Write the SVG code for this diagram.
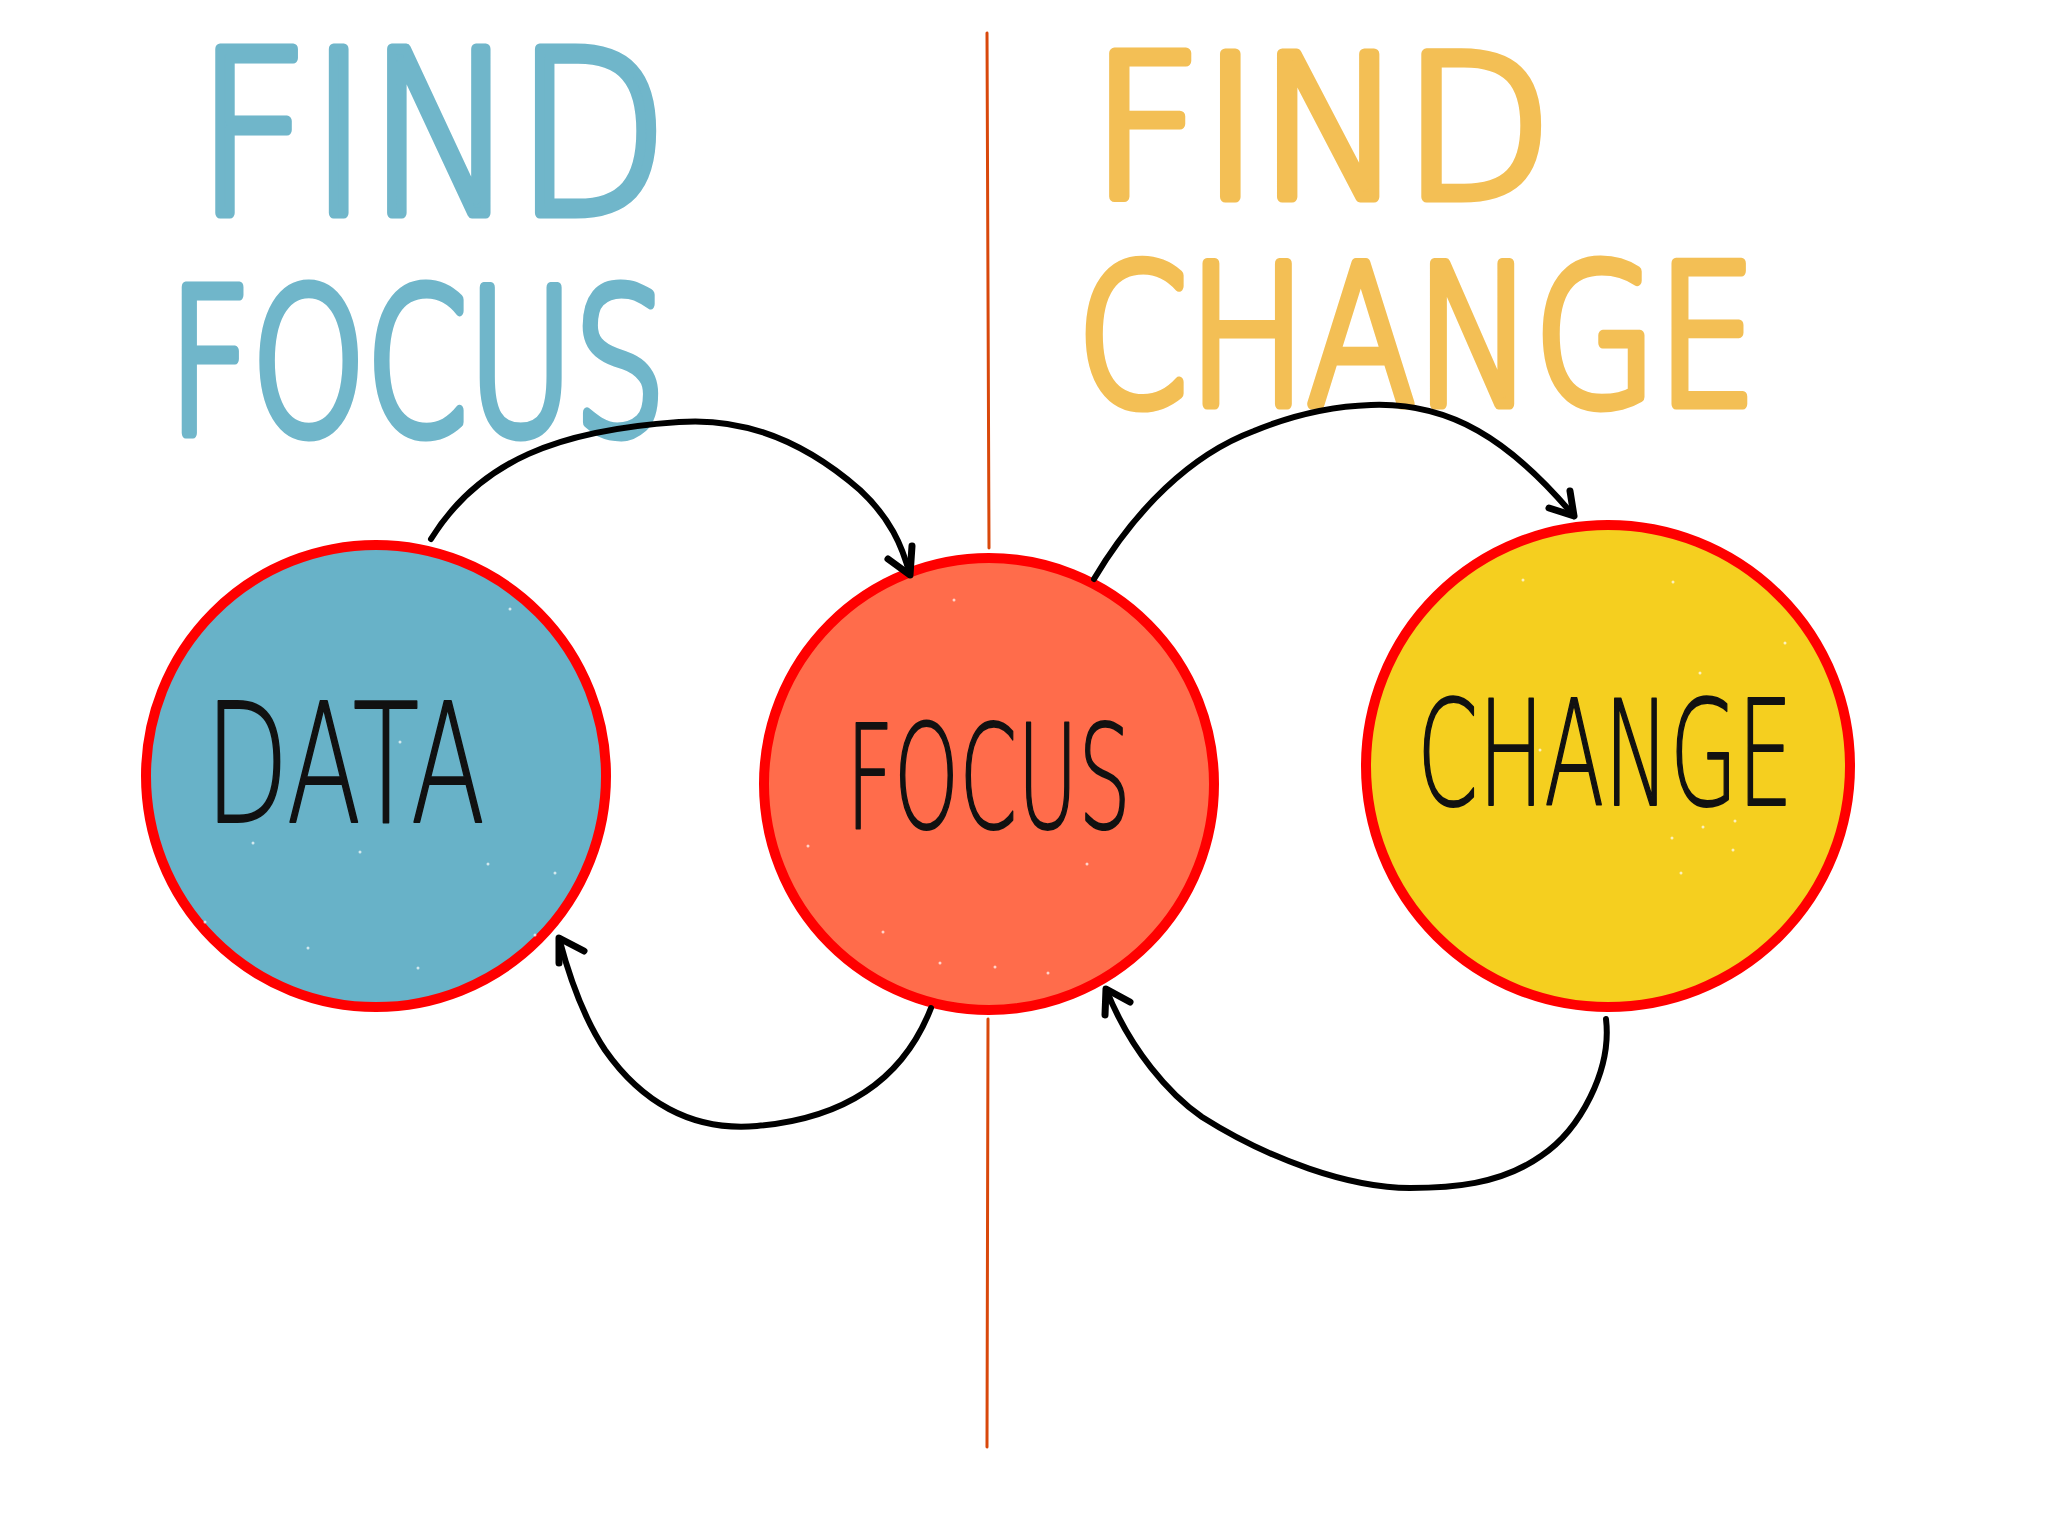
<svg xmlns="http://www.w3.org/2000/svg" width="2048" height="1536" viewBox="0 0 2048 1536">
<style>
.hand{font-family:"DejaVu Sans","Liberation Sans",sans-serif;font-weight:200;stroke-linejoin:round;stroke-linecap:round}
.t-teal{fill:#70b6ca;stroke:#70b6ca;stroke-width:11}
.t-yel{fill:#f3bf55;stroke:#f3bf55;stroke-width:11}
.lbl{fill:#111;stroke:#111;stroke-width:2}
.node{stroke:#ff0000;stroke-width:10}
.conn{fill:none;stroke:#000;stroke-width:6;stroke-linecap:round;stroke-linejoin:round}
.head{fill:none;stroke:#000;stroke-width:7;stroke-linecap:round;stroke-linejoin:round}
.divider{stroke:#d9480b;stroke-width:3;stroke-linecap:round}
.speck{fill:#fff;opacity:0.7}
</style>
<rect width="2048" height="1536" fill="#fff"/>

<g id="divider">
<line class="divider" x1="987" y1="33" x2="989" y2="548"/>
<line class="divider" x1="988" y1="1019" x2="987" y2="1447"/>
</g>

<g id="title-find-focus">
<text class="hand t-teal" x="196" y="213" font-size="225" textLength="472" lengthAdjust="spacingAndGlyphs">FIND</text>
<text class="hand t-teal" x="168" y="433" font-size="200" textLength="498" lengthAdjust="spacingAndGlyphs">FOCUS</text>
</g>

<g id="title-find-change">
<text class="hand t-yel" x="1091" y="197" font-size="197" textLength="461" lengthAdjust="spacingAndGlyphs">FIND</text>
<text class="hand t-yel" x="1077" y="404" font-size="193" textLength="680" lengthAdjust="spacingAndGlyphs">CHANGE</text>
</g>

<g id="node-data">
<ellipse class="node" cx="376" cy="776" rx="230" ry="231" fill="#68b2c8"/>
<g class="speck"><circle cx="510" cy="609" r="1.5"/><circle cx="400" cy="742" r="1.5"/><circle cx="253" cy="843" r="1.5"/><circle cx="360" cy="852" r="1.5"/><circle cx="488" cy="864" r="1.5"/><circle cx="555" cy="873" r="1.5"/><circle cx="308" cy="948" r="1.5"/><circle cx="418" cy="968" r="1.5"/><circle cx="535" cy="935" r="1.5"/><circle cx="205" cy="922" r="1.5"/></g>
<text class="hand lbl" x="205" y="822" font-size="165" textLength="280" lengthAdjust="spacingAndGlyphs" fill="#2d2f2d" stroke="#2d2f2d">DATA</text>
</g>

<g id="node-focus">
<ellipse class="node" cx="989" cy="784" rx="225" ry="226" fill="#ff6c4b"/>
<g class="speck"><circle cx="954" cy="600" r="1.5"/><circle cx="808" cy="846" r="1.5"/><circle cx="1087" cy="864" r="1.5"/><circle cx="883" cy="932" r="1.5"/><circle cx="940" cy="963" r="1.5"/><circle cx="1048" cy="973" r="1.5"/><circle cx="995" cy="967" r="1.5"/></g>
<text class="hand lbl" x="846" y="828" font-size="144" textLength="285" lengthAdjust="spacingAndGlyphs">FOCUS</text>
</g>

<g id="node-change">
<ellipse class="node" cx="1608" cy="766" rx="242" ry="241" fill="#f5cf1f"/>
<g class="speck"><circle cx="1523" cy="580" r="1.5"/><circle cx="1673" cy="582" r="1.5"/><circle cx="1785" cy="643" r="1.5"/><circle cx="1700" cy="673" r="1.5"/><circle cx="1540" cy="750" r="1.5"/><circle cx="1703" cy="827" r="1.5"/><circle cx="1672" cy="838" r="1.5"/><circle cx="1735" cy="821" r="1.5"/><circle cx="1733" cy="850" r="1.5"/><circle cx="1681" cy="873" r="1.5"/></g>
<text class="hand lbl" x="1417" y="805" font-size="147" textLength="376" lengthAdjust="spacingAndGlyphs">CHANGE</text>
</g>

<g id="connectors">
<path class="conn" d="M431,539 C480,460 560,430 679,422 C760,416 820,455 860,490 C890,518 902,545 910,575"/>
<path class="head" d="M912,546 L910,575 L888,559"/>
<path class="conn" d="M1094,579 C1135,510 1190,455 1254,431 C1300,412 1340,406 1371,405 C1450,402 1510,440 1574,516"/>
<path class="head" d="M1570,491 L1574,516 L1549,508"/>
<path class="conn" d="M1606,1019 C1612,1070 1580,1130 1541,1156 C1500,1185 1450,1188 1410,1188 C1350,1188 1270,1160 1202,1117 C1170,1095 1130,1050 1106,989"/>
<path class="head" d="M1105,1015 L1106,989 L1130,1002"/>
<path class="conn" d="M931,1008 C905,1075 850,1118 757,1126 C690,1132 640,1100 605,1050 C585,1020 570,980 559,938"/>
<path class="head" d="M559,963 L559,938 L584,951"/>
</g>
</svg>
